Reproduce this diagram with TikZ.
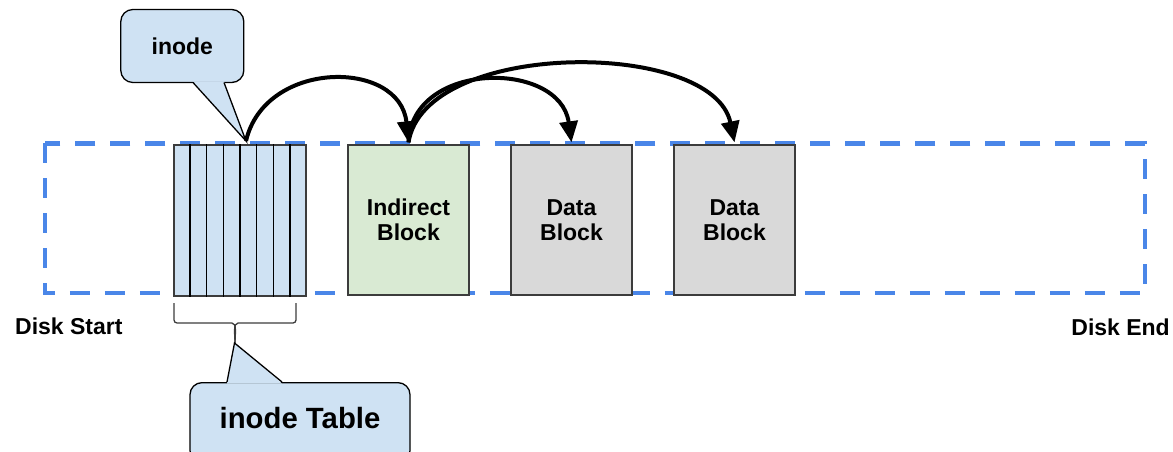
\documentclass[tikz,border=0pt]{standalone}
\usepackage{fontspec}
\setmainfont{Liberation Sans}
\usetikzlibrary{arrows.meta,calc}
\definecolor{diskblue}{HTML}{4A86E8}
\definecolor{inodeblue}{HTML}{CFE2F3}
\definecolor{indgreen}{HTML}{D9EAD3}
\definecolor{datagray}{HTML}{D9D9D9}
\definecolor{edgegray}{HTML}{3C3C3C}
\begin{document}
\begin{tikzpicture}[x=1pt,y=-1pt,
  txt/.style={font=\bfseries\fontsize{23}{24.5}\selectfont, align=center, inner sep=0pt},
  blockbox/.style={draw=edgegray, line width=1.3pt, minimum width=121pt, minimum height=150pt, inner sep=0pt, txt},
  cellline/.style={draw=black, line width=1.3pt},
  callbox/.style={draw=black, fill=inodeblue, line width=1.3pt, rounded corners=12pt, inner sep=0pt},
  ptrline/.style={draw=black, line width=1.3pt, line join=miter},
  conn/.style={draw=black, line width=4pt, -{Triangle[length=21pt,width=18pt]}},
  disk/.style={draw=diskblue, line width=4.5pt, dash pattern=on 20pt off 15pt},
  bracestyle/.style={draw=edgegray, line width=1.3pt}
]
\useasboundingbox (0,0) rectangle (1173,452);
\clip (0,0) rectangle (1173,452);

% disk outline (behind the blocks)
\node[inner sep=0pt, minimum width=1100pt, minimum height=149.5pt] (disk) at (595,218.25) {};
\draw[disk] (disk.north west) rectangle (disk.south east);

% blocks
\node[blockbox, fill=inodeblue, minimum width=132pt, minimum height=151pt] (itable) at (240,220.5) {};
\foreach \k in {1,...,7}
  \draw[cellline] ($(itable.north west)!\k/8!(itable.north east)$) -- ($(itable.south west)!\k/8!(itable.south east)$);
\node[blockbox, fill=indgreen] (ind) at (408.5,220) {Indirect\\Block};
\node[blockbox, fill=datagray] (d1) at (571.5,220) {Data\\Block};
\node[blockbox, fill=datagray] (d2) at (734.5,220) {Data\\Block};

\node[txt, anchor=base west] (dstart) at (15,334) {Disk Start};
\node[txt, anchor=base east] (dend) at (1170,335) {Disk End};

% inode callout
\node[callbox, minimum width=123pt, minimum height=73pt, txt] (icall) at (182.3,46) {inode};
\coordinate (itip) at (246,141);
\fill[inodeblue] (193,81.3) -- (itip) -- (224,81.3) -- cycle;
\draw[ptrline] (193,82.5) -- (itip) -- (224,82.5);

% brace
\draw[bracestyle, rounded corners=3pt] (174,303) -- (174,323) -- (229,323) to[out=0,in=90] (235,343);
\draw[bracestyle, rounded corners=3pt] (296,303) -- (296,323) -- (241,323) to[out=180,in=90] (235,343);
\coordinate (btip) at (234.5,343);

% inode table callout
\node[callbox, minimum width=220pt, minimum height=80pt, anchor=north] (tcall) at (300,382) {};
\fill[inodeblue] (227,383.5) -- (btip) -- (282,383.5) -- cycle;
\draw[ptrline] (227,382) -- (btip) -- (282,382);
\node[txt, font=\bfseries\fontsize{29.3}{32}\selectfont, anchor=base] (ttext) at (300,428) {inode Table};

% connectors
\draw[conn] (itip) .. controls (265,59) and (400,59) .. ([yshift=2pt]ind.north);
\draw[conn] ([yshift=2pt]ind.north) .. controls (412,60) and (560,60) .. ([yshift=2pt]d1.north);
\draw[conn] ([yshift=2pt]ind.north) .. controls (425,39) and (713,39) .. ([yshift=2pt]d2.north);
\end{tikzpicture}
\end{document}
